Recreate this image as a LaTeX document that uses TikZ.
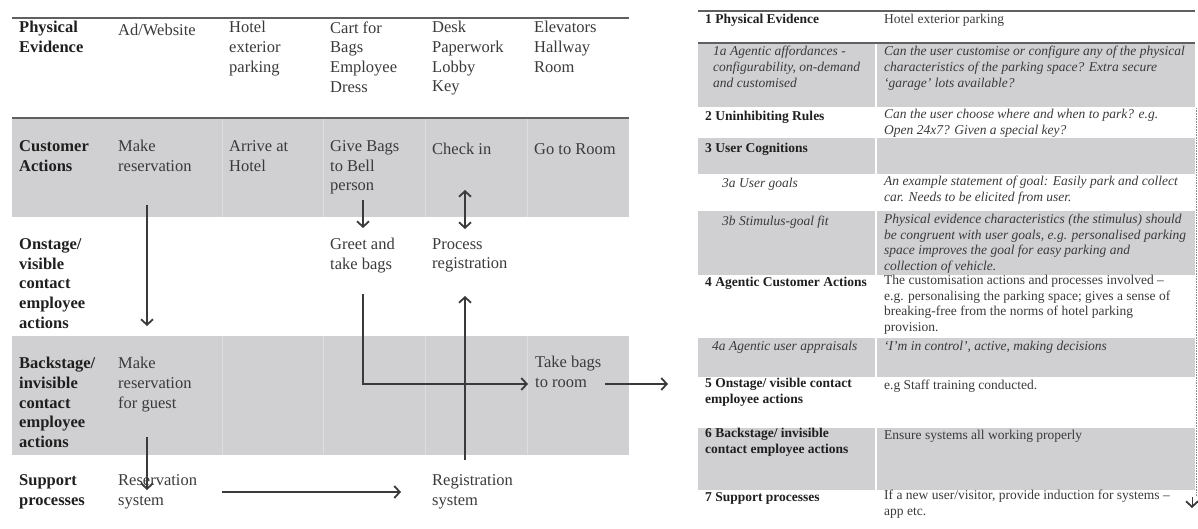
\documentclass[tikz,border=0pt]{standalone}
\usepackage{fontspec}
\setmainfont{Liberation Serif}
\usepackage{xcolor}
\usetikzlibrary{arrows.meta}

\definecolor{band}{RGB}{208,208,210}
\definecolor{ink}{RGB}{58,58,60}
\definecolor{rulegray}{RGB}{96,96,98}
\definecolor{sepgray}{RGB}{222,222,224}

\begin{document}
\begin{tikzpicture}[x=1pt,y=-1pt,>={Straight Barb[length=5.5pt,width=12pt,line width=1.8pt]},
    head node/.style={anchor=north west,inner sep=0pt,align=left,text=black!88,
      yshift=13.79pt,execute at begin node=\strut,
      font=\fontsize{16.5}{19.7}\selectfont\bfseries},
    cell node/.style={head node,text=ink,
      font=\fontsize{16.5}{19.7}\selectfont},
    key node/.style={anchor=north west,inner sep=0pt,align=left,text=black!88,
      yshift=10.99pt,execute at begin node=\strut,
      font=\fontsize{13.5}{15.7}\selectfont\bfseries},
    sub node/.style={key node,text=ink,
      font=\fontsize{13.5}{15.7}\selectfont\itshape},
    note node/.style={key node,text=ink,
      font=\fontsize{13.5}{15.7}\selectfont},
    flow/.style={->,line width=1.3pt,draw=ink}]
\useasboundingbox (0,0) rectangle (1198,529);

% blueprint bands
\fill[band] (12,118) rectangle (629,217);
\fill[band] (12,336) rectangle (629,455);
\foreach \x in {222,323,425,527}
  \draw[sepgray,line width=0.8pt] (\x,118) -- (\x,217) (\x,336) -- (\x,455);
\draw[rulegray,line width=1.5pt] (12,18) -- (629,18);
\draw[rulegray,line width=2pt] (12,118) -- (629,118);

% blueprint rows
\node[head node] (pe) at (19,35) {Physical\\Evidence};
\node[cell node] (ad) at (118,35) {Ad/Website};
\node[cell node] (park) at (229,35) {Hotel\\exterior\\parking};
\node[cell node] (cart) at (330,35) {Cart for\\Bags\\Employee\\Dress};
\node[cell node] (desk) at (432,35) {Desk\\Paperwork\\Lobby\\Key};
\node[cell node] (elev) at (534,35) {Elevators\\Hallway\\Room};

\node[head node] (ca) at (19,154) {Customer\\Actions};
\node[cell node] (mkres) at (118,154) {Make\\reservation};
\node[cell node] (arrive) at (229,154) {Arrive at\\Hotel};
\node[cell node] (give) at (330,154) {Give Bags\\to Bell\\person};
\node[cell node] (checkin) at (432,154) {Check in};
\node[cell node] (goroom) at (534,154) {Go to Room};

\node[head node] (on) at (19,252) {Onstage/\\visible\\contact\\employee\\actions};
\node[cell node] (greet) at (330,252) {Greet and\\take bags};
\node[cell node] (proc) at (432,252) {Process\\registration};

\node[head node] (back) at (19,371) {Backstage/\\invisible\\contact\\employee\\actions};
\node[cell node] (mkguest) at (118,371) {Make\\reservation\\for guest};
\node[cell node] (takebags) at (535,370) {Take bags\\to room};

\node[head node] (sup) at (19,488) {Support\\processes};
\node[cell node] (ressys) at (118,488) {Reservation\\system};
\node[cell node] (regsys) at (432,488) {Registration\\system};

% connector ends
\coordinate (mkres out) at (147,205);
\coordinate (mkguest in) at (147,326);
\coordinate (mkguest out) at (147,437);
\coordinate (ressys in) at (147,490);
\coordinate (give out) at (363,200);
\coordinate (greet in) at (363,228);
\coordinate (checkin out) at (465,190);
\coordinate (proc in) at (465,229);
\coordinate (greet out) at (363,294);
\coordinate (takebags in) at (528,384);
\coordinate (regsys out) at (465,460);
\coordinate (proc low) at (465,296);
\coordinate (ressys out) at (222,492);
\coordinate (regsys in) at (401,492);
\coordinate (takebags out) at (605,384);
\coordinate (table in) at (668,384);

\draw[flow] (mkres out) -- (mkguest in);
\draw[flow] (mkguest out) -- (ressys in);
\draw[flow] (give out) -- (greet in);
\draw[flow,<->] (checkin out) -- (proc in);
\draw[flow] (greet out) |- (takebags in);
\draw[flow] (regsys out) -- (proc low);
\draw[flow] (ressys out) -- (regsys in);
\draw[flow] (takebags out) -- (table in);

% framework table
\fill[band] (698,43) rectangle (1195,107);
\fill[band] (698,138) rectangle (1195,174);
\fill[band] (698,211) rectangle (1195,275);
\fill[band] (698,338) rectangle (1195,377);
\fill[band] (698,428) rectangle (1195,490);
\draw[white,line width=1.2pt] (876,43) -- (876,107) (876,138) -- (876,174)
  (876,211) -- (876,275) (876,338) -- (876,377) (876,428) -- (876,490);
\draw[rulegray,line width=1.2pt] (698,11) -- (1195,11);
\draw[rulegray,line width=2pt] (698,43) -- (1195,43);
\draw[black!45,densely dotted,line width=0.6pt] (1196.5,108) -- (1196.5,496);

\node[key node] (k1) at (705,23) {1 Physical Evidence};
\node[note node] (n1) at (884,23) {Hotel exterior parking};
\node[sub node] (k1a) at (713,57) {1a Agentic affordances -\\configurability, on-demand\\and customised};
\node[sub node] (n1a) at (884,57) {Can the user customise or configure any of the physical\\characteristics of the parking space? Extra secure\\‘garage’ lots available?};
\node[key node] (k2) at (705,120) {2 Uninhibiting Rules};
\node[sub node] (n2) at (884,120) {Can the user choose where and when to park? e.g.\\Open 24x7? Given a special key?};
\node[key node] (k3) at (705,152) {3 User Cognitions};
\node[sub node] (k3a) at (722,187) {3a User goals};
\node[sub node] (n3a) at (884,187) {An example statement of goal: Easily park and collect\\car. Needs to be elicited from user.};
\node[sub node] (k3b) at (722,225) {3b Stimulus-goal fit};
\node[sub node] (n3b) at (884,225) {Physical evidence characteristics (the stimulus) should\\be congruent with user goals, e.g. personalised parking\\space improves the goal for easy parking and\\collection of vehicle.};
\node[key node] (k4) at (705,286) {4 Agentic Customer Actions};
\node[note node] (n4) at (884,286) {The customisation actions and processes involved –\\e.g. personalising the parking space; gives a sense of\\breaking-free from the norms of hotel parking\\provision.};
\node[sub node] (k4a) at (712,350) {4a Agentic user appraisals};
\node[sub node] (n4a) at (884,350) {‘I’m in control’, active, making decisions};
\node[key node] (k5) at (705,389) {5 Onstage/ visible contact\\employee actions};
\node[note node] (n5) at (884,389) {e.g Staff training conducted.};
\node[key node] (k6) at (705,439) {6 Backstage/ invisible\\contact employee actions};
\node[note node] (n6) at (884,439) {Ensure systems all working properly};
\node[key node] (k7) at (705,501) {7 Support processes};
\node[note node] (n7) at (884,501) {If a new user/visitor, provide induction for systems –\\app etc.};

\coordinate (edge top) at (1192,497);
\coordinate (edge tip) at (1192,508);
\draw[flow,line width=1pt] (edge top) -- (edge tip);
\end{tikzpicture}
\end{document}
